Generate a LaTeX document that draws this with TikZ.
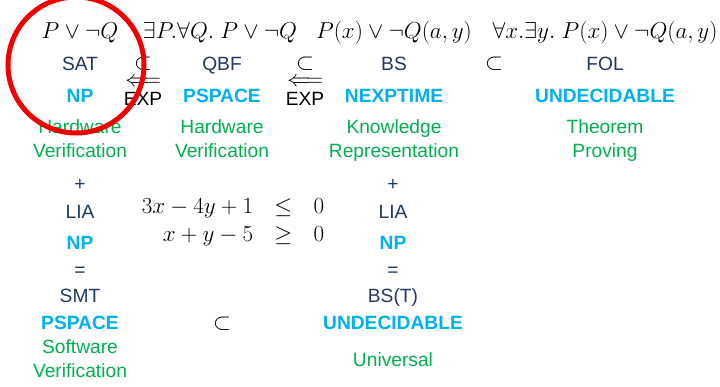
\documentclass[tikz,border=0pt]{standalone}
\usepackage{amsmath, amssymb}
\usepackage[no-math]{fontspec}
\setsansfont{Liberation Sans}
\usepackage{xcolor}
\usetikzlibrary{positioning}
\definecolor{logic-navy}{RGB}{31, 56, 100}
\definecolor{class-cyan}{RGB}{0, 176, 240}
\definecolor{app-green}{RGB}{0, 176, 80}
\definecolor{mark-red}{RGB}{240, 0, 0}
\newcommand{\slidesize}{\fontsize{14.4}{18}\selectfont}
\newcommand{\mathsize}{\fontsize{17.28}{21}\selectfont}

\begin{document}
\begin{tikzpicture}[
  x=0.75pt, y=-0.75pt,
  every node/.style={inner sep=0pt, anchor=base, font=\mathsize},
  logic/.style={font=\slidesize\sffamily, text=logic-navy},
  cls/.style={font=\slidesize\sffamily\bfseries, text=class-cyan},
  app/.style={font=\slidesize\sffamily, text=app-green, align=center},
  lbl/.style={font=\slidesize\sffamily}
]
  \useasboundingbox (0,0) rectangle (720,386);

  % example formulas
  \node (fsat) at (80,38)  {$P \vee \neg Q$};
  \node (fqbf) at (220,38) {$\exists P. \forall Q.\; P \vee \neg Q$};
  \node (fbs)  at (394,38) {$P(x) \vee \neg Q(a,y)$};
  \node (ffol) at (605,38) {$\forall x. \exists y.\; P(x) \vee \neg Q(a,y)$};

  % logics
  \node[logic] (sat) at (80,70)  {SAT};
  \node[logic] (qbf) at (222,70) {QBF};
  \node[logic] (bs)  at (394,70) {BS};
  \node[logic] (fol) at (605,70) {FOL};
  \node (sub1) at (143,69) {$\subset$};
  \node (sub2) at (305,69) {$\subset$};
  \node (sub3) at (494,69) {$\subset$};
  \node (red1) at (143,86) {$\Longleftarrow$};
  \node (red2) at (305,86) {$\Longleftarrow$};
  \node[lbl] (exp1) at (143,105) {EXP};
  \node[lbl] (exp2) at (305,105) {EXP};

  % complexity
  \node[cls] (npsat)  at (80,102)  {NP};
  \node[cls] (psqbf)  at (222,102) {PSPACE};
  \node[cls] (nexpbs) at (394,102) {NEXPTIME};
  \node[cls] (undfol) at (605,102) {UNDECIDABLE};

  % applications (base = last line)
  \node[app] (hw1) at (80,157)  {Hardware\\Verification};
  \node[app] (hw2) at (222,157) {Hardware\\Verification};
  \node[app] (kr)  at (394,157) {Knowledge\\Representation};
  \node[app] (tp)  at (605,157) {Theorem\\Proving};

  % SMT column
  \node[logic] (plus1) at (80,190) {+};
  \node[logic] (lia1)  at (80,218) {LIA};
  \node[cls]   (nplia1) at (80,249) {NP};
  \node[logic] (eq1)   at (80,276) {=};
  \node[logic] (smt)   at (80,302) {SMT};
  \node[cls]   (pssmt) at (80,329) {PSPACE};
  \node[app]   (sw)    at (80,377) {Software\\Verification};

  % linear constraints
  \node[anchor=center] (cons) at (233,222)
    {\setlength\arraycolsep{8pt}$\begin{array}{rcl}
      3x - 4y + 1 & \leq & 0 \\
      x + y - 5 & \geq & 0
    \end{array}$};
  \node (sub4) at (222,329) {$\subset$};

  % BS(T) column
  \node[logic] (plus2) at (393,190) {+};
  \node[logic] (lia2)  at (393,218) {LIA};
  \node[cls]   (nplia2) at (393,249) {NP};
  \node[logic] (eq2)   at (393,276) {=};
  \node[logic] (bst)   at (393,302) {BS(T)};
  \node[cls]   (undbst) at (393,329) {UNDECIDABLE};
  \node[app]   (univ)  at (393,366) {Universal};

  % highlight
  \draw[mark-red, line width=3.75pt] (76,65) circle[radius=51pt];
\end{tikzpicture}
\end{document}
